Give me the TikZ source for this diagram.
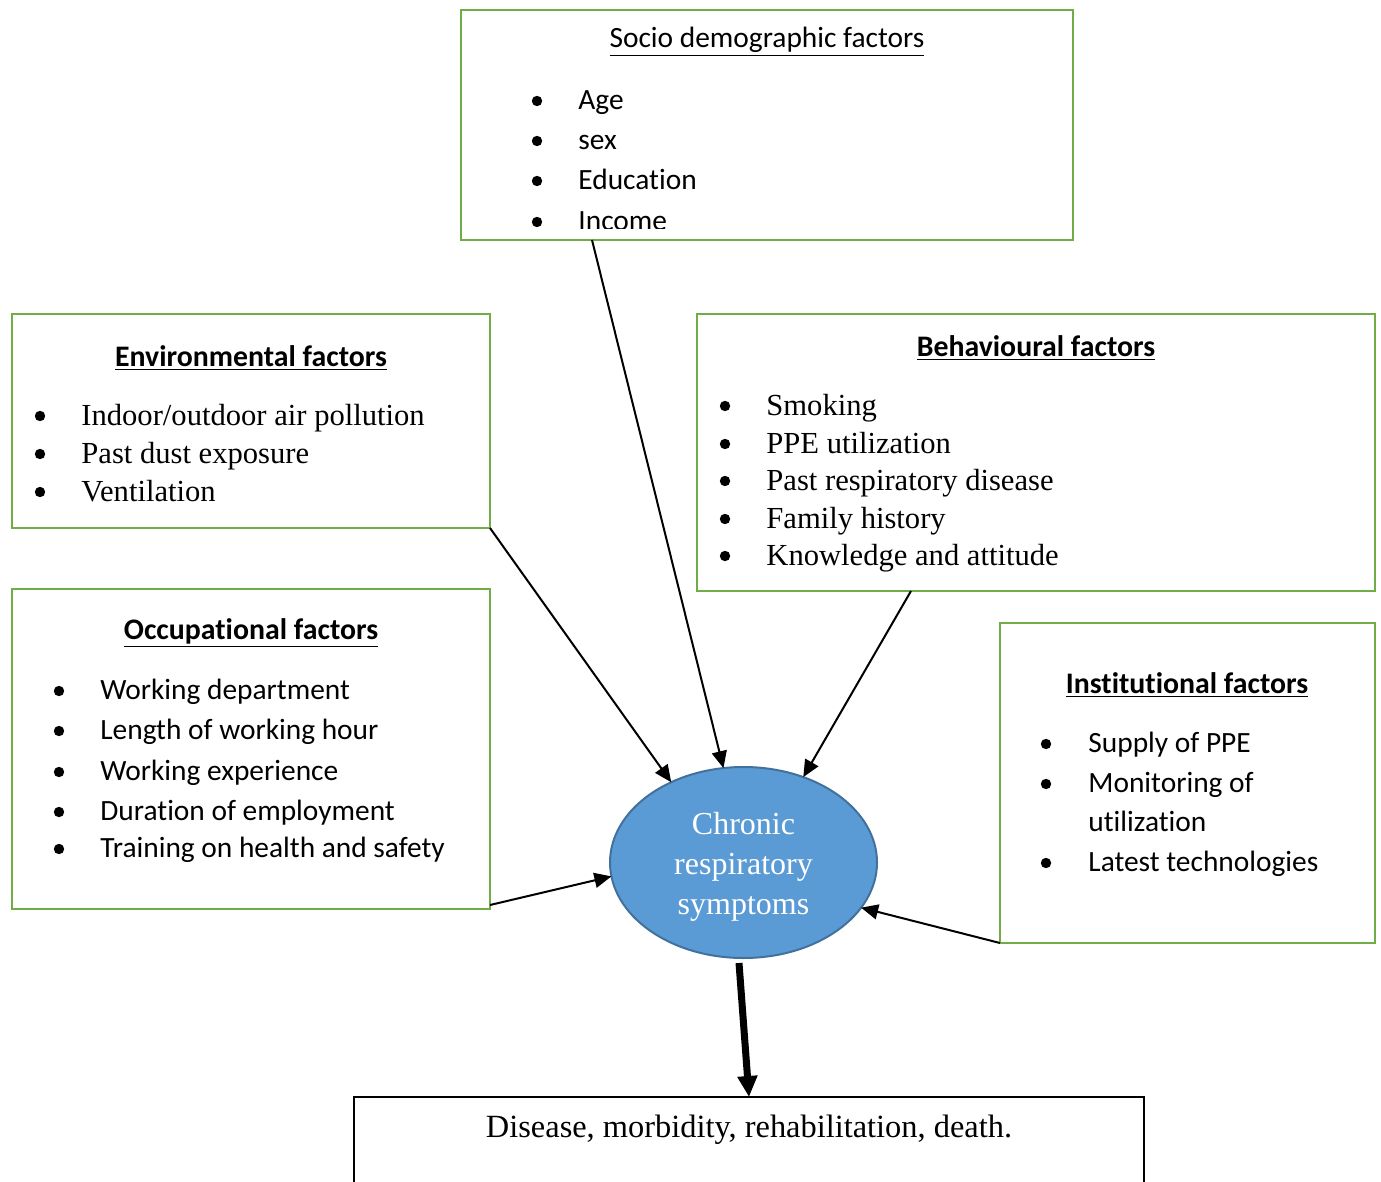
\documentclass[tikz,border=0pt]{standalone}
\usepackage{fontspec}
\setmainfont{Liberation Serif}
\newfontfamily\calib[Ligatures=NoCommon,RawFeature=-liga]{Carlito}
\usetikzlibrary{arrows.meta,shapes.geometric}
\definecolor{boxgreen}{HTML}{70AD47}
\definecolor{ellfill}{HTML}{5B9BD5}
\definecolor{elldraw}{HTML}{41719C}
\begin{document}
\begin{tikzpicture}[x=0.5pt,y=-0.5pt,
  gbox/.style={draw=boxgreen,line width=1.25pt,outer sep=0pt,inner sep=0pt,anchor=north west},
  cal/.style={font=\calib\fontsize{14.7}{17}\selectfont,anchor=west,inner sep=0pt,text height=9.4pt,text depth=0.7pt},
  tms/.style={font=\fontsize{15.3}{18}\selectfont,anchor=west,inner sep=0pt,text height=10pt,text depth=0.8pt},
  ttl/.style={font=\calib\bfseries\fontsize{14.9}{17}\selectfont,inner sep=0pt},
  arr/.style={line width=1pt,-{Triangle[length=8.5pt,width=7.5pt]}},
  bigarr/.style={line width=3.5pt,-{Triangle[length=10.5pt,width=9.5pt]}},
]
\useasboundingbox (0,0) rectangle (1381,1182);
\clip (0,0) rectangle (1381,1182);

% boxes
\node[gbox,minimum width=306pt,minimum height=115pt] (socio) at (461,10) {};
\node[gbox,minimum width=239pt,minimum height=107pt] (env) at (12,314) {};
\node[gbox,minimum width=339pt,minimum height=138.5pt] (behav) at (697,314) {};
\node[gbox,minimum width=239pt,minimum height=160pt] (occ) at (12,589) {};
\node[gbox,minimum width=187.5pt,minimum height=160pt] (inst) at (1000,623) {};
\node[draw,line width=1pt,outer sep=0pt,inner sep=0pt,anchor=north west,minimum width=395pt,minimum height=60pt] (out) at (354,1097) {};

% titles
\node[ttl,font=\calib\fontsize{14.7}{17}\selectfont] (sociot) at (767,42) {\underline{Socio demographic factors}};
\node[ttl] (envt) at (251,358) {\underline{Environmental factors}};
\node[ttl] (behavt) at (1036,348) {\underline{Behavioural factors}};
\node[ttl] (occt) at (251,633) {\underline{Occupational factors}};
\node[ttl] (instt) at (1187,685) {\underline{Institutional factors}};

% socio list
\begin{scope}
\clip (461,10) rectangle (1073,229);
\foreach \y/\t [count=\i] in {101/Age,141/sex,181/Education,222/Income}{
  \fill (537,\y) circle (2.6pt);
  \node[cal] (soc\i) at (578,\y) {\t};
}
\end{scope}

% environmental list
\foreach \y/\t [count=\i] in {416/Indoor\slash outdoor air pollution,454/Past dust exposure,492/Ventilation}{
  \fill (40,\y) circle (2.6pt);
  \node[tms] (env\i) at (81,\y) {\t};
}

% behavioural list
\foreach \y/\t [count=\i] in {406/Smoking,444/PPE utilization,481/Past respiratory disease,519/Family history,556/Knowledge and attitude}{
  \fill (725,\y) circle (2.6pt);
  \node[tms] (beh\i) at (766,\y) {\t};
}

% occupational list
\foreach \y/\t [count=\i] in {691/Working department,731/Length of working hour,772/Working experience,812/Duration of employment,849/Training on health and safety}{
  \fill (59,\y) circle (2.6pt);
  \node[cal] (occ\i) at (100,\y) {\t};
}

% institutional list
\foreach \y/\t [count=\i] in {744/Supply of PPE,784/Monitoring of,863/Latest technologies}{
  \fill (1046,\y) circle (2.6pt);
  \node[cal] (ins\i) at (1088,\y) {\t};
}
\node[cal] (ins2b) at (1088,823) {utilization};

% central ellipse
\node[ellipse,draw=elldraw,line width=1pt,fill=ellfill,inner sep=0pt,outer sep=0pt,
      minimum width=133.5pt,minimum height=95.5pt] (ell) at (743.5,862.5) {};
\node[text=white,inner sep=0pt,align=center,font=\fontsize{16}{20}\selectfont] (elltxt) at (743.5,867)
      {Chronic\\respiratory\\symptoms};

% outcome text
\node[inner sep=0pt,font=\fontsize{16.2}{19}\selectfont] (outtxt) at (749,1130) {Disease, morbidity, rehabilitation, death.};

% connectors
\draw[arr] ([xshift=65.5pt]socio.south west) -- (ell.102.6);
\draw[arr] (env.south east) -- (ell.132.9);
\draw[arr] ([xshift=107pt]behav.south west) -- (ell.55.5);
\draw[arr] ([yshift=2pt]occ.south east) -- (ell.186);
\draw[arr] (inst.south west) -- (ell.339.7);
\draw[bigarr] ([xshift=-2.25pt,yshift=-2.5pt]ell.south) -- (out.north);
\end{tikzpicture}
\end{document}
